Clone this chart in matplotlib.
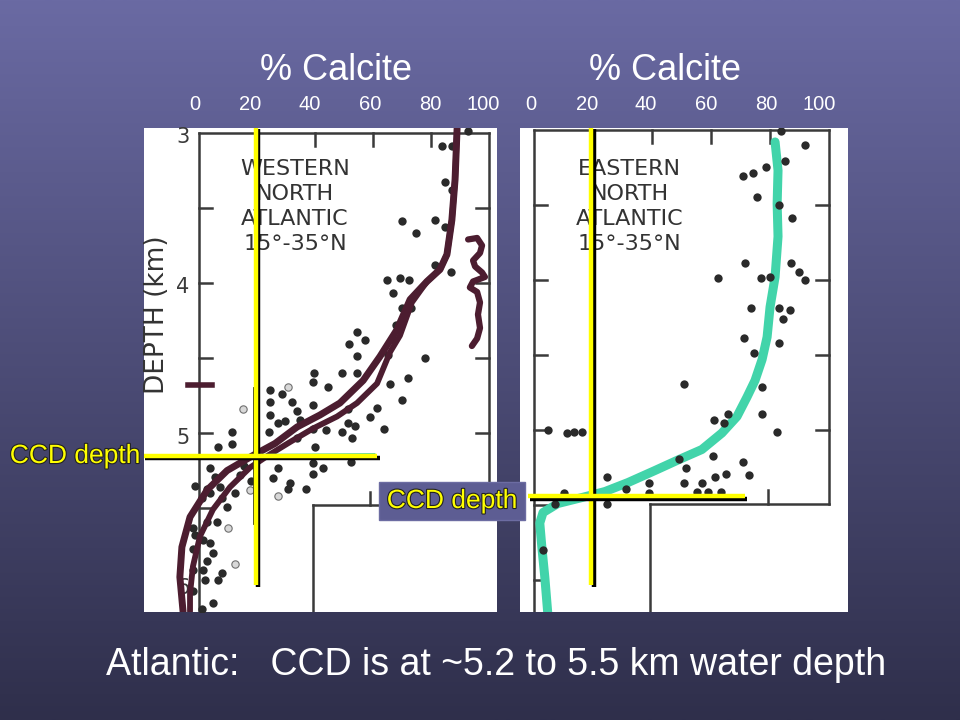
import numpy as np
import matplotlib.pyplot as plt
from matplotlib import patheffects as pe
from matplotlib.colors import LinearSegmentedColormap

plt.rcParams['font.family'] = ['Liberation Sans', 'DejaVu Sans']

# top axis labels (% calcite) and depth labels
pct_labels = ['0', '20', '40', '60', '80', '100']
west_label_pos = [-1.4, 17.6, 38.3, 59.0, 79.7, 97.9]
east_label_pos = [-1.0, 18.0, 38.0, 58.3, 78.6, 96.6]
depth_labels = [3, 4, 5, 6]

# western north atlantic: black data points (% calcite, depth km)
west_pct = [92.8, 83.8, 87.2, 84.8, 87.2, 70.0, 81.4, 84.8, 74.8, 81.4, 86.9, 64.8, 69.3,
            72.4, 66.9, 70.0, 73.1, 67.9, 54.5, 51.7, 57.2, 66.9, 54.5, 77.9, 65.2,
            39.7, 49.3, 54.5, 39.3, 44.5, 65.9, 72.1, 70.0, 24.5, 28.6, 32.1, 39.3, 33.8,
            24.5, 24.5, 27.2, 29.7, 24.1, 34.8, 39.3, 43.8, 49.3, 51.4, 53.8, 52.8, 59.0,
            61.4, 63.8, 51.4, 11.4, 11.4, 6.6, 33.8, 40.0, 27.2, 39.3, 42.8, 39.3, 52.4,
            25.5, 31.4, 30.7, 36.9, 3.8, 5.5, -1.4, 2.8, 1.0, 3.8, 7.9, 9.7, 7.2, 14.1,
            15.5, 18.0, 12.5, 2.8, 6.2, -2.1, -1.4, 1.4, 3.8, -2.1, 2.8, 4.8, 1.4, -2.1,
            7.9, 6.6, 2.1, -2.1, 4.8, 1.0]
west_depth = [2.99, 3.09, 3.09, 3.33, 3.38, 3.59, 3.58, 3.63, 3.67, 3.88, 3.93, 3.98, 3.97,
              3.98, 4.07, 4.17, 4.17, 4.28, 4.33, 4.41, 4.38, 4.38, 4.49, 4.50, 4.48,
              4.60, 4.60, 4.60, 4.66, 4.69, 4.67, 4.63, 4.78, 4.71, 4.74, 4.79, 4.81, 4.85,
              4.79, 4.88, 4.93, 4.92, 4.99, 4.91, 4.97, 4.98, 4.99, 4.93, 4.95, 5.03, 4.89,
              4.83, 4.97, 4.84, 4.99, 5.07, 5.09, 5.03, 5.09, 5.23, 5.20, 5.23, 5.27, 5.19,
              5.30, 5.33, 5.37, 5.37, 5.23, 5.29, 5.35, 5.37, 5.43, 5.40, 5.43, 5.49, 5.36, 5.28,
              5.22, 5.32, 5.40, 5.59, 5.59, 5.63, 5.68, 5.71, 5.73, 5.77, 5.85, 5.80, 5.91, 5.91,
              5.93, 5.98, 5.98, 6.05, 6.13, 6.17]
# faded (hollow looking) points
west_faint_pct = [30.7, 15.2, 27.2, 10.0, 12.4, 17.6]
west_faint_depth = [4.69, 4.84, 5.42, 5.63, 5.87, 5.38]

# hand drawn curves on the western panel
west_c1_pct = [89.0, 88.3, 87.2, 85.5, 83.1, 78.6, 72.8, 68.3, 62.4, 56.6, 48.6, 41.7, 33.8,
               26.2, 18.6, 9.7, 2.8, -3.1, -5.9, -6.6, -5.5]
west_c1_depth = [2.97, 3.31, 3.58, 3.81, 3.91, 3.99, 4.11, 4.31, 4.49, 4.65, 4.80, 4.88, 4.96,
                 5.07, 5.15, 5.25, 5.38, 5.56, 5.76, 5.96, 6.19]
west_c2_pct = [89.0, 88.3, 87.2, 85.5, 83.1, 78.6, 73.4, 69.3, 65.9, 61.4, 54.5, 47.6, 39.3,
               31.4, 23.8, 17.6, 10.7, 4.8, 0.3, -2.1, -3.1, -3.1]
west_c2_depth = [2.97, 3.31, 3.58, 3.81, 3.91, 3.99, 4.13, 4.35, 4.46, 4.67, 4.80, 4.89, 4.97,
                 5.06, 5.15, 5.23, 5.36, 5.51, 5.69, 5.89, 6.07, 6.19]
squiggle_pct = [92.8, 95.9, 97.6, 96.9, 94.5, 95.2, 97.6, 98.6, 94.5, 93.4, 95.9, 96.9, 96.2,
                96.9, 95.9, 94.1]
squiggle_depth = [3.71, 3.70, 3.75, 3.80, 3.85, 3.89, 3.93, 3.96, 3.99, 4.03, 4.06, 4.13, 4.21,
                  4.30, 4.37, 4.42]

# eastern north atlantic
east_pct = [83.7, 91.9, 85.1, 78.6, 70.8, 74.2, 75.6, 83.1, 87.5, 71.5, 87.1, 62.4, 76.9,
            80.0, 89.8, 91.9, 73.6, 83.1, 86.8, 84.4, 71.2, 83.1, 74.6, 50.8, 77.3, 61.0,
            65.8, 64.4, 77.3, 82.4, 4.7, 11.2, 13.6, 16.3, 49.2, 51.5, 60.7, 70.8, 24.7,
            31.2, 39.0, 50.8, 56.9, 61.4, 65.1, 72.9, 55.3, 59.0, 63.4, 10.2, 7.1, 24.7,
            39.0, 3.1]
east_depth = [3.01, 3.10, 3.21, 3.25, 3.31, 3.29, 3.45, 3.50, 3.59, 3.89, 3.89, 3.99, 3.99,
              3.98, 3.95, 4.00, 4.19, 4.19, 4.20, 4.26, 4.39, 4.42, 4.49, 4.69, 4.71, 4.93,
              4.89, 4.95, 4.89, 5.01, 5.00, 5.02, 5.01, 5.01, 5.19, 5.25, 5.17, 5.21, 5.31,
              5.39, 5.35, 5.35, 5.35, 5.31, 5.29, 5.30, 5.41, 5.41, 5.41, 5.42, 5.49, 5.49,
              5.42, 5.80]
east_c_pct = [81.7, 82.7, 82.4, 82.7, 81.7, 80.0, 79.0, 77.3, 74.9, 72.2, 68.8, 63.7, 56.9,
              48.8, 41.0, 31.9, 24.1, 16.3, 8.1, 3.1, 2.0, 2.7, 3.7, 4.7]
east_c_depth = [3.08, 3.27, 3.49, 3.71, 3.98, 4.18, 4.38, 4.53, 4.67, 4.78, 4.91, 5.02, 5.13,
                5.20, 5.27, 5.35, 5.41, 5.45, 5.49, 5.55, 5.62, 5.78, 5.98, 6.22]

ccd_west = 5.15
ccd_east = 5.44
lysocline_pct = 19.5

W, H = 960, 720


def px_rect(x0, y0, x1, y1):
    return [x0 / W, 1 - y1 / H, (x1 - x0) / W, (y1 - y0) / H]


def draw_frame(ax, inner_x, inner_d, inner_tick, left_ticks, right_ticks, bottom):
    fc = '#3a3a3a'
    ax.plot([0, 100], [3, 3], color=fc, lw=1.8)
    ax.plot([0, 0], [3, bottom], color=fc, lw=1.8)
    ax.plot([100, 100], [3, inner_d], color=fc, lw=1.8)
    ax.plot([inner_x, 100], [inner_d, inner_d], color=fc, lw=1.8)
    ax.plot([inner_x, inner_x], [inner_d, bottom], color=fc, lw=1.8)
    ax.plot([inner_tick, inner_tick], [inner_d, inner_d - 0.09], color=fc, lw=1.8)
    for d in left_ticks:
        ax.plot([0, 4.5], [d, d], color=fc, lw=1.8)
    for d in right_ticks:
        ax.plot([95.5, 100], [d, d], color=fc, lw=1.8)
    for p in [20, 40, 60, 80]:
        ax.plot([p, p], [3, 3.09], color=fc, lw=1.8)


def setup(ax, label_pos, xlim, ylim):
    ax.set_xlim(*xlim)
    ax.set_ylim(*ylim)
    ax.set_facecolor('white')
    for s in ax.spines.values():
        s.set_visible(False)
    ax.xaxis.tick_top()
    ax.set_xticks(label_pos)
    ax.set_xticklabels(pct_labels)
    ax.tick_params(axis='x', length=0, pad=10, labelsize=14.5, labelcolor='white')
    ax.set_yticks([])


def yellow_line(ax, x, y):
    ax.plot(x, y, color='#ffff00', lw=3.2, solid_capstyle='butt', zorder=6,
            path_effects=[pe.SimpleLineShadow(offset=(1.8, -1.8), shadow_color='black', alpha=1.0),
                          pe.Normal()])


fig = plt.figure(figsize=(9.6, 7.2), dpi=100)

# slide background gradient
bg = fig.add_axes([0, 0, 1, 1])
cmap = LinearSegmentedColormap.from_list('slide', ['#6a6aa3', '#2f2f4b'])
bg.imshow(np.linspace(0, 1, 256).reshape(-1, 1), cmap=cmap, aspect='auto', extent=[0, 1, 0, 1])
bg.axis('off')

# ---- western panel
ax1 = fig.add_axes(px_rect(144, 128, 497, 612))
setup(ax1, west_label_pos, (-18.97, 102.76), (6.193, 2.967))
draw_frame(ax1, 39.3, 5.48, 59.0, [3.5, 4, 4.5, 5, 5.5], [3.5, 4, 4.5, 5], 6.3)
for d in depth_labels:
    ax1.text(-5.5, d + 0.03, str(d), ha='center', va='center', fontsize=15,
             color='#3a3a3a', family='DejaVu Sans')
ax1.text(-14.5, 4.21, 'DEPTH (km)', rotation=90, ha='center', va='center', fontsize=19,
         color='#333333', family='DejaVu Sans')
ax1.text(33.1, 3.49, 'WESTERN\nNORTH\nATLANTIC\n15°-35°N', ha='center', va='center',
         fontsize=16, color='#333333', family='DejaVu Sans', linespacing=1.3)
ax1.scatter(west_pct, west_depth, s=36, color='#2a2a2a', linewidths=0, zorder=3)
ax1.scatter(west_faint_pct, west_faint_depth, s=28, facecolor='#d8d8d8', edgecolor='#707070',
            linewidths=0.8, zorder=3)
maroon = '#4c1d30'
ax1.plot(west_c1_pct, west_c1_depth, color=maroon, lw=5.0, solid_capstyle='round', zorder=4)
ax1.plot(west_c2_pct, west_c2_depth, color=maroon, lw=4.2, solid_capstyle='round', zorder=4)
ax1.plot(squiggle_pct, squiggle_depth, color=maroon, lw=4.5, solid_capstyle='round', zorder=4)
ax1.plot([-3.8, 4.5], [4.68, 4.68], color=maroon, lw=4, zorder=4)
ax1.plot([19.0, 19.0], [4.7, 5.6], color='#1a1a1a', lw=2, zorder=4)
ax1.plot([-15.9, 60.0], [ccd_west + 0.01, ccd_west], color='#40d1a9', lw=3.5, zorder=5)
yellow_line(ax1, [lysocline_pct, lysocline_pct], [2.96, 6.01])
yellow_line(ax1, [-19.5, 61.4], [ccd_west, ccd_west])

# ---- eastern panel
ax2 = fig.add_axes(px_rect(520, 128, 848, 612))
setup(ax2, east_label_pos, (-4.7, 106.4), (6.213, 2.987))
draw_frame(ax2, 39.3, 5.49, 79.3, [3.5, 4, 4.5, 5, 5.5, 6], [3.5, 4, 4.5, 5], 6.3)
ax2.text(32.5, 3.51, 'EASTERN\nNORTH\nATLANTIC\n15°-35°N', ha='center', va='center',
         fontsize=16, color='#333333', family='DejaVu Sans', linespacing=1.3)
ax2.plot(east_c_pct, east_c_depth, color='#42d4aa', lw=6.5, solid_capstyle='round', zorder=2)
ax2.scatter(east_pct, east_depth, s=36, color='#2a2a2a', linewidths=0, zorder=3)
yellow_line(ax2, [lysocline_pct, lysocline_pct], [2.98, 6.03])
yellow_line(ax2, [-2.0, 71.5], [ccd_east, ccd_east])

# ---- slide text
fig.text(336 / W, 1 - 80 / H, '% Calcite', ha='center', va='baseline', fontsize=26, color='white')
fig.text(665 / W, 1 - 80 / H, '% Calcite', ha='center', va='baseline', fontsize=26, color='white')
fig.text(496 / W, 1 - 675 / H, 'Atlantic:   CCD is at ~5.2 to 5.5 km water depth',
         ha='center', va='baseline', fontsize=27, color='white')
outline = [pe.withStroke(linewidth=1.6, foreground='#222222')]
fig.text(75 / W, 1 - 463 / H, 'CCD depth', ha='center', va='baseline', fontsize=19,
         color='#ffff00', path_effects=outline)
fig.text(452 / W, 1 - 508 / H, 'CCD depth', ha='center', va='baseline', fontsize=19,
         color='#ffff00', path_effects=outline, zorder=10,
         bbox=dict(boxstyle='square,pad=0.28', facecolor='#5d5d93', edgecolor='#6c6ca2', lw=1))

fig.savefig('out.png', dpi=100)
